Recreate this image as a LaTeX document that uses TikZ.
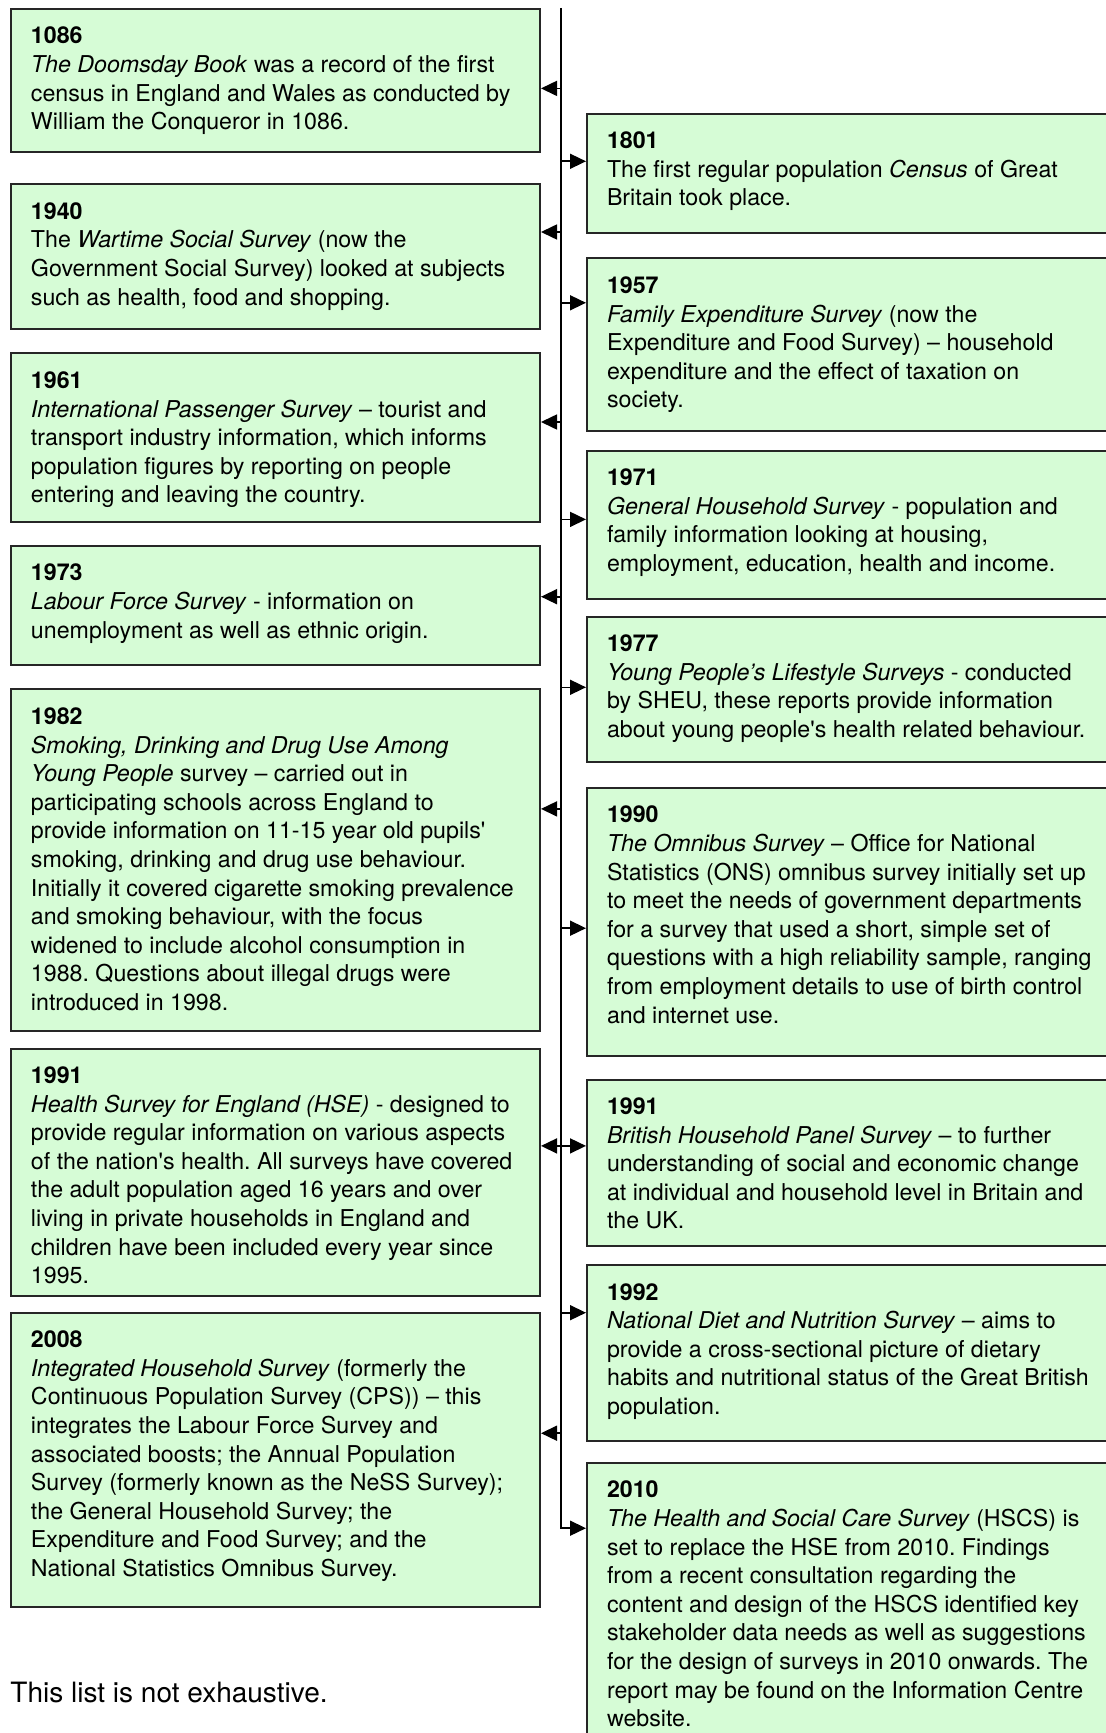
\documentclass[tikz,border=0pt]{standalone}
\usepackage{fontspec}
\setmainfont{TeX Gyre Heros}
\usetikzlibrary{arrows.meta}
\definecolor{boxgreen}{RGB}{214,252,214}
\frenchspacing
\newcommand{\yr}[1]{\rule{0pt}{17.5pt}\textbf{#1}\\}
\newcommand{\sq}{\textquotesingle}
\newcommand{\entry}[2]{\parbox[c][#1][t]{244.5pt}{\raggedright #2}}
\tikzset{
  entrybox/.style={draw=black!85, line width=1pt, fill=boxgreen, anchor=north west,
    inner xsep=10pt, inner ysep=0pt, font=\fontsize{11.6}{14.3}\selectfont},
  spine/.style={line width=1pt},
  tip/.style={line width=0.8pt, -{Triangle[length=8pt,width=7.5pt]}},
}

\begin{document}
\begin{tikzpicture}[x=0.5pt,y=-0.5pt]
	%%%%% PAGE %%%%%
	\clip (0,0) rectangle (1106,1733);
	\fill[white] (0,0) rectangle (1106,1733);
	
	%%%%% LEFT COLUMN %%%%%
	\node[entrybox] (l1086) at (10,8) {\entry{71.3pt}{\yr{1086}\textit{The Doomsday Book} was a record of the first\\census in England and Wales as conducted by\\William the Conqueror in 1086.}};
	\node[entrybox] (l1940) at (10,183.4) {\entry{72.4pt}{\yr{1940}The \textit{Wartime Social Survey} (now the\\Government Social Survey) looked at subjects\\such as health, food and shopping.}};
	\node[entrybox] (l1961) at (10,352.5) {\entry{84pt}{\yr{1961}\textit{International Passenger Survey} -- tourist and\\transport industry information, which informs\\population figures by reporting on people\\entering and leaving the country.}};
	\node[entrybox] (l1973) at (10,544.8) {\entry{59.7pt}{\yr{1973}\textit{Labour Force Survey} - information on\\unemployment as well as ethnic origin.}};
	\node[entrybox] (l1982) at (10,688.4) {\entry{170.8pt}{\yr{1982}\textit{Smoking, Drinking and Drug Use Among}\\\textit{Young People} survey -- carried out in\\participating schools across England to\\provide information on 11-15 year old pupils\sq\\smoking, drinking and drug use behaviour.\\Initially it covered cigarette smoking prevalence\\and smoking behaviour, with the focus\\widened to include alcohol consumption in\\1988. Questions about illegal drugs were\\introduced in 1998.}};
	\node[entrybox] (l1991) at (10,1047.5) {\entry{123.8pt}{\yr{1991}\textit{Health Survey for England (HSE)} - designed to\\provide regular information on various aspects\\of the nation\sq s health. All surveys have covered\\the adult population aged 16 years and over\\living in private households in England and\\children have been included every year since\\1995.}};
	\node[entrybox] (l2008) at (10,1311.6) {\entry{147pt}{\yr{2008}\textit{Integrated Household Survey} (formerly the\\Continuous Population Survey (CPS)) -- this\\integrates the Labour Force Survey and\\associated boosts; the Annual Population\\Survey (formerly known as the NeSS Survey);\\the General Household Survey; the\\Expenditure and Food Survey; and the\\National Statistics Omnibus Survey.}};
	
	%%%%% RIGHT COLUMN %%%%%
	\node[entrybox] (r1801) at (586,112.7) {\entry{59.7pt}{\yr{1801}The first regular population \textit{Census} of Great\\Britain took place.}};
	\node[entrybox] (r1957) at (586,257.5) {\entry{86.2pt}{\yr{1957}\textit{Family Expenditure Survey} (now the\\Expenditure and Food Survey) -- household\\expenditure and the effect of taxation on\\society.}};
	\node[entrybox] (r1971) at (586,449.7) {\entry{74pt}{\yr{1971}\textit{General Household Survey} - population and\\family information looking at housing,\\employment, education, health and income.}};
	\node[entrybox] (r1977) at (586,615.5) {\entry{72.9pt}{\yr{1977}\textit{Young People’s Lifestyle Surveys} - conducted\\by SHEU, these reports provide information\\about young people\sq s health related behaviour.}};
	\node[entrybox] (r1990) at (586,786.8) {\entry{134.3pt}{\yr{1990}\textit{The Omnibus Survey} -- Office for National\\Statistics (ONS) omnibus survey initially set up\\to meet the needs of government departments\\for a survey that used a short, simple set of\\questions with a high reliability sample, ranging\\from employment details to use of birth control\\and internet use.}};
	\node[entrybox] (r1991) at (586,1078.5) {\entry{83.4pt}{\yr{1991}\textit{British Household Panel Survey} -- to further\\understanding of social and economic change\\at individual and household level in Britain and\\the UK.}};
	\node[entrybox] (r1992) at (586,1264.1) {\entry{87.9pt}{\yr{1992}\textit{National Diet and Nutrition Survey} -- aims to\\provide a cross-sectional picture of dietary\\habits and nutritional status of the Great British\\population.}};
	\node[entrybox] (r2010) at (586,1461.9) {\entry{150pt}{\yr{2010}\textit{The Health and Social Care Survey} (HSCS) is\\set to replace the HSE from 2010. Findings\\from a recent consultation regarding the\\content and design of the HSCS identified key\\stakeholder data needs as well as suggestions\\for the design of surveys in 2010 onwards. The\\report may be found on the Information Centre\\website.}};
	
	%%%%% TIMELINE %%%%%
	\coordinate (top) at (561,8);
	\coordinate (bend) at (561,1528.2);
	\draw[spine, tip] (top) -- (bend) -- (bend -| r2010.west);
	
	\foreach \b/\y in {l1086/88.4, l1940/232, l1961/422, l1973/596.7, l1982/808.9, l1991/1145.9, l2008/1433.2}{
		\coordinate (s-\b) at (561,\y);
		\draw[tip] (s-\b) -- (s-\b -| \b.east);
	}
	\foreach \b/\y in {r1801/161.3, r1957/302.8, r1971/519.4, r1977/687.3, r1990/928.2, r1991/1145.9, r1992/1312.7}{
		\coordinate (s-\b) at (561,\y);
		\draw[tip] (s-\b) -- (s-\b -| \b.west);
	}
	
	\node[anchor=west, inner sep=0pt, font=\fontsize{14}{17}\selectfont] (note) at (10,1692) {This list is not exhaustive.};
\end{tikzpicture}
\end{document}
